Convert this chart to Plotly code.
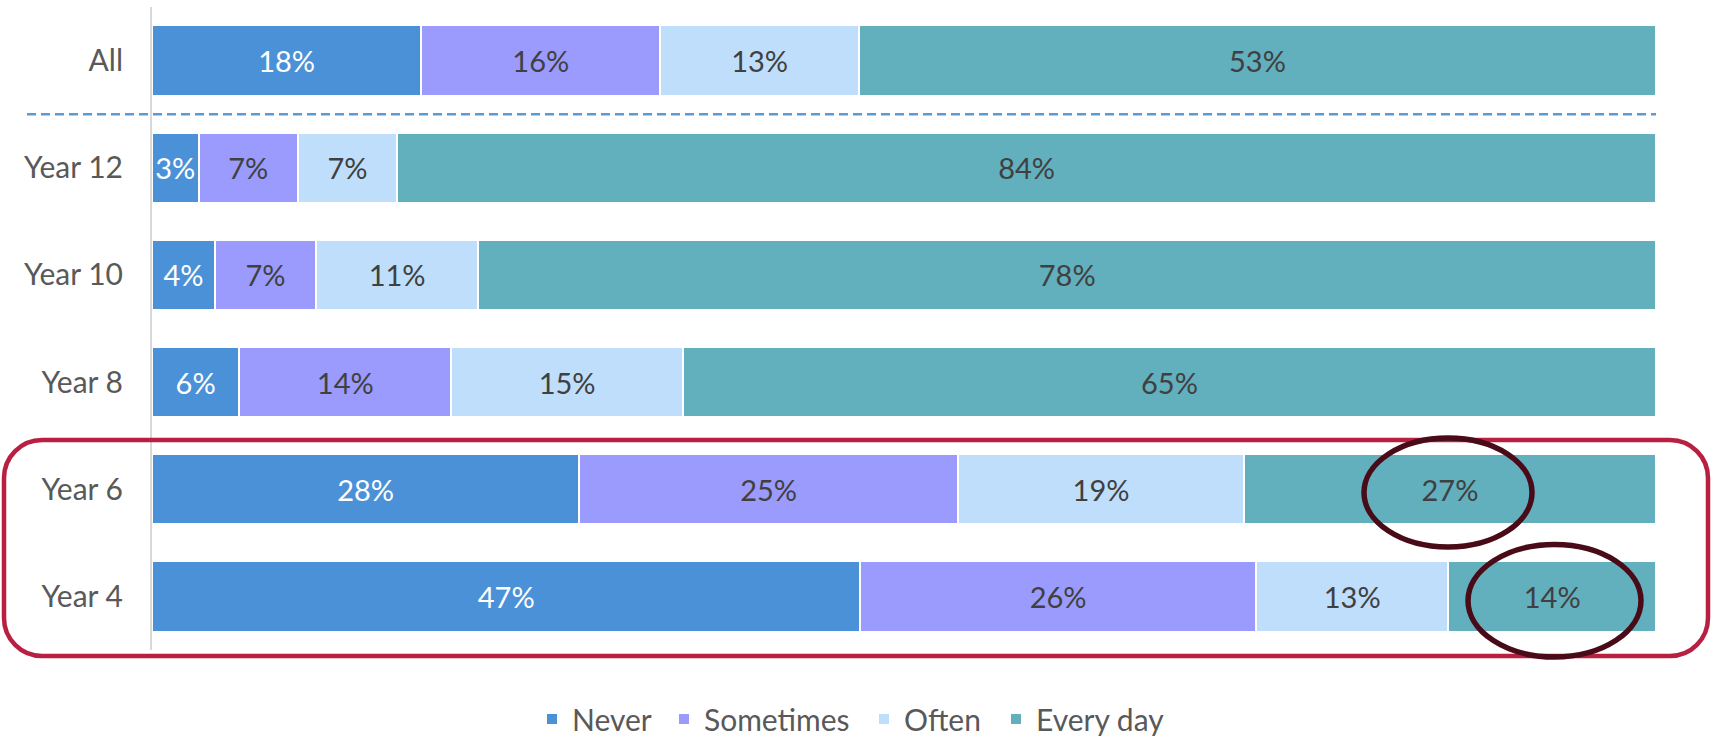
# plot.py
# Частота по годам обучения: горизонтальные накопленные столбцы

import plotly.graph_objects as go

groups = ['All', 'Year 12', 'Year 10', 'Year 8', 'Year 6', 'Year 4']
never = [17.9, 3.1, 4.2, 5.8, 28.4, 47.1]
sometimes = [15.9, 6.6, 6.7, 14.1, 25.2, 26.3]
often = [13.2, 6.6, 10.8, 15.4, 19.0, 12.8]
every_day = [53.0, 83.7, 78.3, 64.7, 27.4, 13.8]

series = [
    ('Never', never, '#4B91D8', 'white'),
    ('Sometimes', sometimes, '#9B9BFD', '#404040'),
    ('Often', often, '#BFDEFB', '#404040'),
    ('Every day', every_day, '#62AFBE', '#404040'),
]

# где начинается текст каждой позиции легенды (px)
legend_text_x = [576, 708, 908, 1040]

FONT = 'Lato'
W, H = 1716, 745
L, R, T, B = 152, 1656, 7, 650


def px_x(p):
    return (p - L) / (R - L)


def px_y(p):
    return (B - p) / (B - T)


def rounded_rect(x0, y0, x1, y1, r):
    """Путь скруглённого прямоугольника (в пикселях -> paper)"""
    k = 0.5523 * r
    pts = [
        ('M', [(x0 + r, y0)]),
        ('L', [(x1 - r, y0)]),
        ('C', [(x1 - r + k, y0), (x1, y0 + r - k), (x1, y0 + r)]),
        ('L', [(x1, y1 - r)]),
        ('C', [(x1, y1 - r + k), (x1 - r + k, y1), (x1 - r, y1)]),
        ('L', [(x0 + r, y1)]),
        ('C', [(x0 + r - k, y1), (x0, y1 - r + k), (x0, y1 - r)]),
        ('L', [(x0, y0 + r)]),
        ('C', [(x0, y0 + r - k), (x0 + r - k, y0), (x0 + r, y0)]),
    ]
    path = ''
    for cmd, coords in pts:
        path += cmd + ' '.join(f'{px_x(a):.5f},{px_y(b):.5f}' for a, b in coords) + ' '
    return path + 'Z'


fig = go.Figure()

legends = {}
for i, (name, vals, color, tcolor) in enumerate(series):
    lg = 'legend' if i == 0 else f'legend{i + 1}'
    fig.add_trace(go.Bar(
        name=name,
        y=groups,
        x=vals,
        orientation='h',
        legend=lg,
        marker=dict(color=color, line=dict(color='white', width=2)),
        texttemplate='%{x:.0f}%',
        textposition='inside',
        insidetextanchor='middle',
        textangle=0,
        textfont=dict(family=FONT, size=29, color=tcolor),
    ))
    legends[lg] = dict(
        orientation='h',
        xref='container', yref='container',
        x=(legend_text_x[i] - 44) / W, xanchor='left',
        y=1 - 719 / H, yanchor='middle',
        font=dict(family=FONT, size=30, color='#595959'),
        itemwidth=30,
        bgcolor='rgba(0,0,0,0)',
    )

# пунктир между «All» и остальными
fig.add_shape(type='line', xref='paper', yref='y',
              x0=px_x(27), x1=1, y0=0.5, y1=0.5,
              line=dict(color='#5B9BD5', width=2.5, dash='9px,5px'))

# красная рамка вокруг Year 6 / Year 4
fig.add_shape(type='path', xref='paper', yref='paper',
              path=rounded_rect(4, 440, 1708, 656, 38),
              line=dict(color='#B91F41', width=4.5))

# эллипсы
fig.add_shape(type='circle', xref='paper', yref='paper',
              x0=px_x(1364), x1=px_x(1532), y0=px_y(547), y1=px_y(438),
              line=dict(color='#4A0B19', width=5.5))
fig.add_shape(type='circle', xref='paper', yref='paper',
              x0=px_x(1468), x1=px_x(1641), y0=px_y(657), y1=px_y(544.5),
              line=dict(color='#4A0B19', width=5.5))

fig.update_layout(
    barmode='stack',
    bargap=0.345,
    width=W,
    height=H,
    margin=dict(l=L, r=W - R, t=T, b=H - B),
    plot_bgcolor='white',
    paper_bgcolor='white',
    font=dict(family=FONT, color='#595959', size=30),
    uniformtext=dict(minsize=29, mode='show'),
    xaxis=dict(range=[0, 100], visible=False, fixedrange=True),
    yaxis=dict(
        categoryorder='array',
        categoryarray=groups,
        autorange='reversed',
        showline=True,
        linecolor='#D9D9D9',
        linewidth=2,
        showgrid=False,
        ticks='',
        ticklabelstandoff=21,
        tickfont=dict(family=FONT, size=30, color='#595959'),
    ),
    showlegend=True,
    **legends,
)

fig.write_html('out.html', config={'displayModeBar': False},
               post_script="document.body.style.margin='0';")
